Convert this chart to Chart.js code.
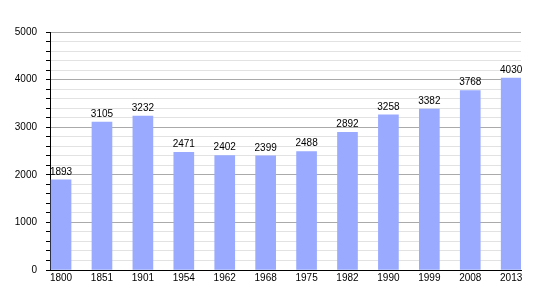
<!DOCTYPE html>
<html>
<head>
<meta charset="utf-8">
<script src="https://cdn.jsdelivr.net/npm/chart.js@4"></script>
<style>
  html, body { margin: 0; padding: 0; background: #fff; }
  #wrap { width: 550px; height: 300px; }
</style>
</head>
<body>
<div id="wrap"><canvas id="popChart"></canvas></div>
<script>
// Population by census year
const years = ['1800', '1851', '1901', '1954', '1962', '1968', '1975', '1982', '1990', '1999', '2008', '2013'];
const population = [1893, 3105, 3232, 2471, 2402, 2399, 2488, 2892, 3258, 3382, 3768, 4030];
const yMajorTicks = [0, 1000, 2000, 3000, 4000, 5000];

// Value labels above each bar
const barLabels = {
    id: 'barLabels',
    afterDatasetsDraw(chart) {
        const ctx = chart.ctx;
        const meta = chart.getDatasetMeta(0);
        ctx.save();
        ctx.font = '10px "Liberation Sans", Arial, sans-serif';
        ctx.fillStyle = '#000';
        ctx.textAlign = 'center';
        ctx.textBaseline = 'bottom';
        meta.data.forEach((bar, i) => {
            ctx.fillText(String(population[i]), bar.x, bar.y - 3);
        });
        ctx.restore();
    }
};

const ctx = document.getElementById('popChart');
new Chart(ctx, {
    type: 'bar',
    data: {
        datasets: [{
            data: population.map((v, i) => ({ x: i, y: v })),
            backgroundColor: '#99aaff',
            borderWidth: 0,
            barThickness: 20
        }]
    },
    options: {
        responsive: true,
        maintainAspectRatio: false,
        animation: false,
        layout: { padding: { top: 32, right: 29, left: 0, bottom: 0 } },
        plugins: {
            legend: { display: false },
            tooltip: { enabled: false }
        },
        scales: {
            x: {
                type: 'linear',
                offset: false,
                min: -0.27,
                max: 11.24,
                afterBuildTicks: scale => {
                    scale.ticks = years.map((_, i) => ({ value: i }));
                },
                afterFit: scale => { scale.height = 30; },
                grid: { display: false, drawTicks: false, tickLength: 0 },
                border: { display: true, color: '#000', width: 1 },
                ticks: {
                    padding: 2,
                    maxRotation: 0,
                    autoSkip: false,
                    color: '#000',
                    font: { family: '"Liberation Sans", Arial, sans-serif', size: 10 },
                    callback: v => years[v]
                }
            },
            y: {
                min: 0,
                max: 5000,
                afterFit: scale => { scale.width = 50; },
                grid: {
                    color: c => yMajorTicks.includes(c.tick.value) ? '#aaaaaa' : '#e2e2e2',
                    tickColor: '#000',
                    tickLength: 4
                },
                border: { display: true, color: '#000', width: 1 },
                ticks: {
                    stepSize: 200,
                    padding: 9,
                    autoSkip: false,
                    color: '#000',
                    font: { family: '"Liberation Sans", Arial, sans-serif', size: 10 },
                    callback: v => yMajorTicks.includes(v) ? v : ''
                }
            }
        }
    },
    plugins: [barLabels]
});
</script>
</body>
</html>
